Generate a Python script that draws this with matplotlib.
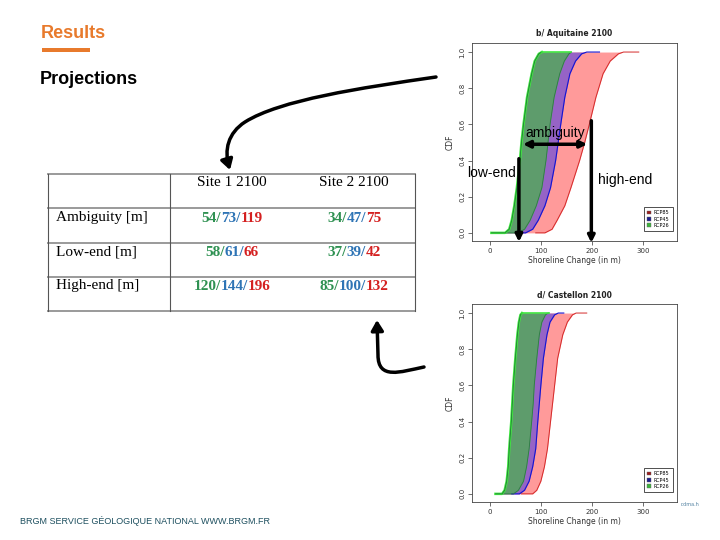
import matplotlib
matplotlib.use("Agg")
import matplotlib.pyplot as plt
from matplotlib.patches import Patch, FancyArrowPatch, Rectangle
from matplotlib.path import Path

# CDF levels shared by every envelope curve (repeated 0 / 1 = flat tails)
cdf_levels = [0, 0, 0.02, 0.07, 0.15, 0.25, 0.4, 0.5, 0.6, 0.75, 0.88, 0.95, 0.99, 1.0, 1.0]

# b/ Aquitaine 2100, shoreline change (m)
aq_rcp26_low = [3, 30, 38, 43, 48, 53, 59, 62, 66, 73, 82, 88, 96, 102, 102]
aq_rcp26_high = [30, 55, 68, 79, 91, 102, 110, 114, 118, 126, 137, 146, 155, 160, 160]
aq_rcp45_high = [60, 70, 84, 95, 108, 119, 129, 134, 139, 147, 157, 168, 180, 190, 215]
aq_rcp85_high = [90, 108, 122, 132, 147, 159, 176, 186, 195, 208, 222, 236, 252, 262, 292]

# d/ Castellon 2100
ca_rcp26_low = [11, 24, 29, 33, 36, 38, 42, 44, 46, 50, 54, 57, 60, 63, 63]
ca_rcp26_high = [24, 46, 56, 66, 72, 77, 82, 85, 87, 92, 97, 102, 109, 114, 116]
ca_rcp45_high = [43, 58, 68, 77, 84, 90, 94, 97, 100, 105, 112, 118, 127, 134, 145]
ca_rcp85_high = [62, 84, 92, 100, 107, 113, 119, 123, 127, 133, 143, 152, 162, 169, 190]

# annotations on the Aquitaine panel
low_end_x = 57
high_end_x = 199
ambiguity_span = [65, 191]

# table
site_headers = ["Site 1 2100", "Site 2 2100"]
row_labels = ["Ambiguity [m]", "Low-end [m]", "High-end [m]"]
site1_rcp26 = [54, 58, 120]
site1_rcp45 = [73, 61, 144]
site1_rcp85 = [119, 66, 196]
site2_rcp26 = [34, 37, 85]
site2_rcp45 = [47, 39, 100]
site2_rcp85 = [75, 42, 132]

W, H = 720, 540
fig = plt.figure(figsize=(7.2, 5.4), dpi=100)
fig.patch.set_facecolor("white")

# overlay in pixel coordinates for the slide elements
ov = fig.add_axes([0, 0, 1, 1], zorder=0)
ov.set_xlim(0, W)
ov.set_ylim(H, 0)
ov.axis("off")
ov.patch.set_alpha(0)


def ax_rect(left, top, right, bottom):
    return [left / W, 1 - bottom / H, (right - left) / W, (bottom - top) / H]


def cdf_panel(rect, title, lo, g_hi, b_hi, r_hi):
    ax = fig.add_axes(rect, zorder=1)
    ax.fill_betweenx(cdf_levels, lo, r_hi, color="#ff9a9a", lw=0)
    ax.fill_betweenx(cdf_levels, lo, b_hi, color="#9663c6", lw=0)
    ax.fill_betweenx(cdf_levels, lo, g_hi, color="#5e9c6c", lw=0)
    ax.plot(r_hi, cdf_levels, color="#d42a2a", lw=0.7)
    ax.plot(b_hi, cdf_levels, color="#1414d2", lw=0.8)
    ax.plot(g_hi, cdf_levels, color="#2d7a45", lw=0.6)
    ax.plot(lo, cdf_levels, color="#3ee83e", lw=1.8)
    ax.plot(lo, cdf_levels, color="#1d6b35", lw=0.5)
    ax.plot([lo[-1], g_hi[-1]], [1, 1], color="#3ee83e", lw=1.2)
    ax.set_xlim(-35, 367)
    ax.set_ylim(-0.045, 1.05)
    ax.set_xticks([0, 100, 200, 300])
    ax.set_yticks([0, 0.2, 0.4, 0.6, 0.8, 1.0])
    ax.set_yticklabels(["0.0", "0.2", "0.4", "0.6", "0.8", "1.0"],
                       rotation=90, va="center")
    ax.tick_params(labelsize=5, length=3, width=0.5, colors="#333333", pad=2)
    for s in ax.spines.values():
        s.set_linewidth(0.6)
        s.set_color("#444444")
    ax.set_title(title, fontsize=5.5, fontweight="bold", pad=5, color="#222222")
    ax.set_xlabel("Shoreline Change (in m)", fontsize=5.5, labelpad=1.5, color="#333333")
    ax.set_ylabel("CDF", fontsize=5.5, labelpad=3, color="#333333")
    handles = [Patch(fc="#9b1c1c", ec="#666666", lw=0.3),
               Patch(fc="#1c1c8c", ec="#666666", lw=0.3),
               Patch(fc="#3cb43c", ec="#666666", lw=0.3)]
    leg = ax.legend(handles, ["RCP85", "RCP45", "RCP26"], loc="lower right",
                    bbox_to_anchor=(0.99, 0.04), fontsize=3.5, fancybox=False,
                    edgecolor="black", handlelength=0.8, handleheight=0.8,
                    borderpad=0.6, labelspacing=0.25, handletextpad=0.6)
    leg.get_frame().set_linewidth(0.6)
    return ax


ax1 = cdf_panel(ax_rect(472, 43, 677, 241), "b/ Aquitaine 2100",
                aq_rcp26_low, aq_rcp26_high, aq_rcp45_high, aq_rcp85_high)
ax2 = cdf_panel(ax_rect(472, 304, 677, 502), "d/ Castellon 2100",
                ca_rcp26_low, ca_rcp26_high, ca_rcp45_high, ca_rcp85_high)

# thick arrows explaining ambiguity / low-end / high-end
arr = dict(color="black", lw=2.5, shrinkA=0, shrinkB=0, mutation_scale=10)
ax1.annotate("", xy=(ambiguity_span[1], 0.49), xytext=(ambiguity_span[0], 0.49),
             arrowprops=dict(arrowstyle="<|-|>", **arr), annotation_clip=False)
ax1.annotate("", xy=(low_end_x, -0.05), xytext=(low_end_x, 0.41),
             arrowprops=dict(arrowstyle="-|>", **arr), annotation_clip=False)
ax1.annotate("", xy=(high_end_x, -0.055), xytext=(high_end_x, 0.62),
             arrowprops=dict(arrowstyle="-|>", **arr), annotation_clip=False)
ax1.text(sum(ambiguity_span) / 2, 0.555, "ambiguity", fontsize=10,
         ha="center", va="center", family="Liberation Sans")
ax1.text(low_end_x - 5, 0.333, "low-end", fontsize=10, ha="right",
         va="center", family="Liberation Sans")
ax1.text(high_end_x + 13, 0.294, "high-end", fontsize=10, ha="left",
         va="center", family="Liberation Sans")

# slide header
orange = "#e87a2c"
ov.text(41, 33, "Results", fontsize=13, fontweight="bold", color=orange,
        family="Liberation Sans", va="center", ha="left")
ov.add_patch(Rectangle((42, 48), 48, 3.5, color=orange, lw=0))
ov.text(40, 80, "Projections", fontsize=13, fontweight="bold", color="black",
        family="Liberation Sans", va="center", ha="left")

# footer
ov.text(20, 521, "BRGM SERVICE GÉOLOGIQUE NATIONAL WWW.BRGM.FR", fontsize=6.5,
        color="#1d4f5f", family="Liberation Sans", va="center", ha="left")
ov.text(690, 505, "r.dma.h", fontsize=3.5, color="#5080a0", va="center", ha="center")

# curved arrows
p1 = Path([(436, 77), (360, 88), (280, 100), (245, 122),
           (228, 133), (224, 150), (230, 170)],
          [Path.MOVETO, Path.CURVE4, Path.CURVE4, Path.CURVE4,
           Path.CURVE4, Path.CURVE4, Path.CURVE4])
p2 = Path([(424, 367), (400, 372), (378, 380), (378, 355), (377, 320)],
          [Path.MOVETO, Path.CURVE4, Path.CURVE4, Path.CURVE4, Path.LINETO])
for p in (p1, p2):
    ov.add_patch(FancyArrowPatch(path=p, arrowstyle="-|>,head_length=0.5,head_width=0.3",
                                 mutation_scale=12, lw=2.5, color="black",
                                 transform=ov.transData))

# table
col_x = [48, 170, 415]
row_y = [174, 208, 243, 277, 311]
for y in row_y:
    ov.plot([col_x[0], col_x[-1]], [y, y], color="#9a9a9a", lw=1.4)
for x in col_x:
    ov.plot([x, x], [row_y[0], row_y[-1]], color="#555555", lw=0.8)

serif = "Liberation Serif"
site_cx = [232, 354]
for cx, name in zip(site_cx, site_headers):
    ov.text(cx, 183, name, fontsize=11, family=serif, ha="center", va="center")
row_cy = [218, 252, 286]
for cy, lab in zip(row_cy, row_labels):
    ov.text(56, cy, lab, fontsize=11, family=serif, ha="left", va="center")

fig.canvas.draw()
renderer = fig.canvas.get_renderer()
c26, c45, c85 = "#2f9152", "#2e74b5", "#d42020"


def colored_cell(cx, cy, v26, v45, v85):
    parts = [(f"{v26}/", c26), (f"{v45}/", c45), (f"{v85}", c85)]
    texts = [ov.text(0, cy, s, color=c, fontsize=11, family=serif,
                     fontweight="bold", ha="left", va="center") for s, c in parts]
    widths = [t.get_window_extent(renderer).width for t in texts]
    x = cx - sum(widths) / 2
    for t, w in zip(texts, widths):
        t.set_x(x)
        x += w


for i, cy in enumerate(row_cy):
    colored_cell(site_cx[0], cy, site1_rcp26[i], site1_rcp45[i], site1_rcp85[i])
    colored_cell(site_cx[1], cy, site2_rcp26[i], site2_rcp45[i], site2_rcp85[i])

fig.savefig("out.png", dpi=100)
